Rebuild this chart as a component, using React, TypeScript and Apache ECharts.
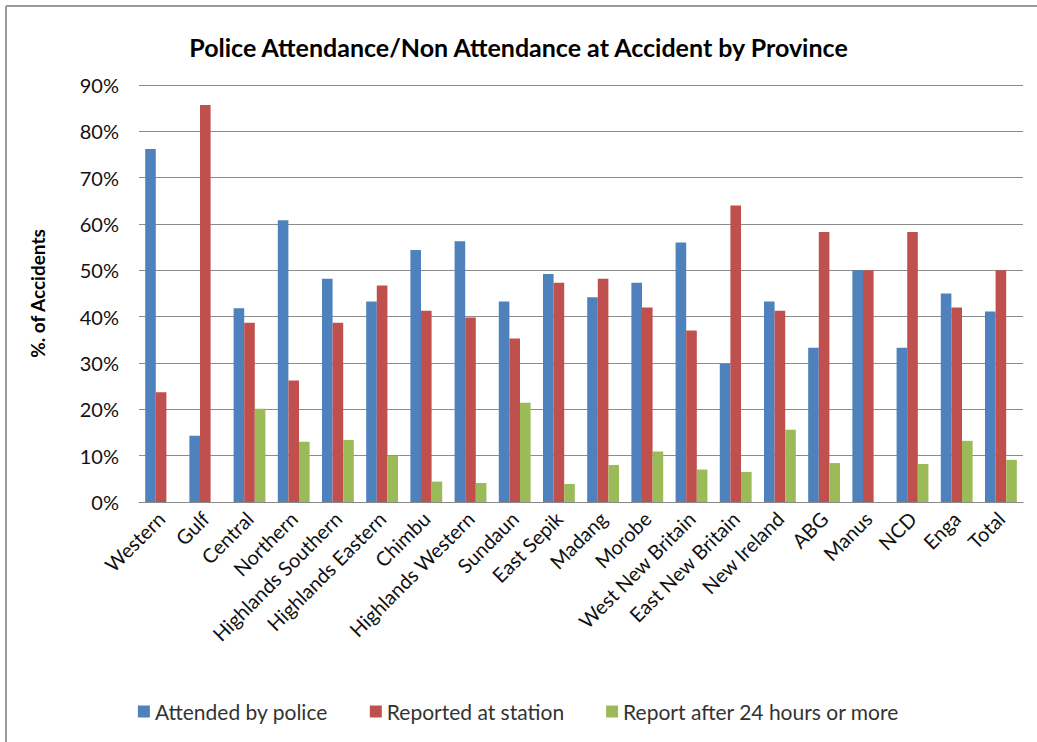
import React, { useEffect, useRef } from "react";
import * as echarts from "echarts";

const categories = [
  "Western", "Gulf", "Central", "Northern", "Highlands Southern", "Highlands Eastern",
  "Chimbu", "Highlands Western", "Sundaun", "East Sepik", "Madang", "Morobe",
  "West New Britain", "East New Britain", "New Ireland", "ABG", "Manus", "NCD", "Enga", "Total",
];
const attended = [76.2, 14.3, 41.8, 60.8, 48.2, 43.3, 54.4, 56.3, 43.3, 49.2, 44.2, 47.3, 56.0, 29.8, 43.3, 33.3, 50.0, 33.3, 45.0, 41.1];
const reported = [23.7, 85.7, 38.7, 26.2, 38.7, 46.7, 41.3, 39.8, 35.3, 47.3, 48.2, 42.0, 37.0, 64.0, 41.3, 58.3, 50.0, 58.3, 42.0, 50.0];
const after24 = [null, null, 20.1, 13.0, 13.4, 10.0, 4.4, 4.1, 21.4, 3.9, 8.0, 10.9, 7.0, 6.5, 15.6, 8.4, null, 8.2, 13.2, 9.1];
const seriesNames = ["Attended by police", "Reported at station", "Report after 24 hours or more"];
const colors = ["#4F81BD", "#C0504D", "#9BBB59"];

export default function App() {
  const ref = useRef<HTMLDivElement>(null);
  useEffect(() => {
    const chart = echarts.init(ref.current!, null, { renderer: "svg" });
    const font = "Lato, 'Open Sans', sans-serif";
    chart.setOption({
      animation: false,
      backgroundColor: "#fff",
      textStyle: { fontFamily: font },
      title: {
        text: "Police Attendance/Non Attendance at Accident by Province",
        left: "center",
        top: 29,
        textStyle: { fontSize: 25, fontWeight: "bold", color: "#000", fontFamily: font },
      },
      graphic: [
        { type: "line", shape: { x1: 6, y1: 6, x2: 1037, y2: 6 }, style: { stroke: "#999", lineWidth: 2 } },
        { type: "line", shape: { x1: 6, y1: 6, x2: 6, y2: 742 }, style: { stroke: "#999", lineWidth: 2 } },
      ],
      legend: {
        bottom: 15,
        left: "center",
        itemWidth: 12,
        itemHeight: 12,
        itemGap: 42,
        icon: "rect",
        textStyle: { fontSize: 21, color: "#333", fontFamily: font },
        data: seriesNames,
      },
      grid: { left: 139, right: 14, top: 85, bottom: 240, containLabel: false },
      xAxis: {
        type: "category",
        data: categories,
        axisLine: { lineStyle: { color: "#888" } },
        axisTick: { show: false },
        axisLabel: { rotate: 45, fontSize: 20, color: "#111", interval: 0, margin: 13, fontFamily: font },
      },
      yAxis: {
        type: "value",
        min: 0,
        max: 90,
        interval: 10,
        name: "%. of Accidents",
        nameLocation: "middle",
        nameGap: 92,
        nameTextStyle: { fontSize: 19, fontWeight: "bold", color: "#000", fontFamily: font },
        axisLine: { show: false },
        axisTick: { show: false },
        axisLabel: { formatter: "{value}%", fontSize: 20, color: "#111", margin: 20, fontFamily: font },
        splitLine: { lineStyle: { color: "#8c8c8c", width: 1 } },
      },
      series: [
        { name: seriesNames[0], type: "bar", data: attended, itemStyle: { color: colors[0] }, barGap: "0%", barCategoryGap: "28%" },
        { name: seriesNames[1], type: "bar", data: reported, itemStyle: { color: colors[1] }, barGap: "0%", barCategoryGap: "28%" },
        { name: seriesNames[2], type: "bar", data: after24, itemStyle: { color: colors[2] }, barGap: "0%", barCategoryGap: "28%" },
      ],
    });
    return () => chart.dispose();
  }, []);
  return <div ref={ref} style={{ position: "absolute", left: 0, top: 0, width: 1037, height: 742 }} />;
}
